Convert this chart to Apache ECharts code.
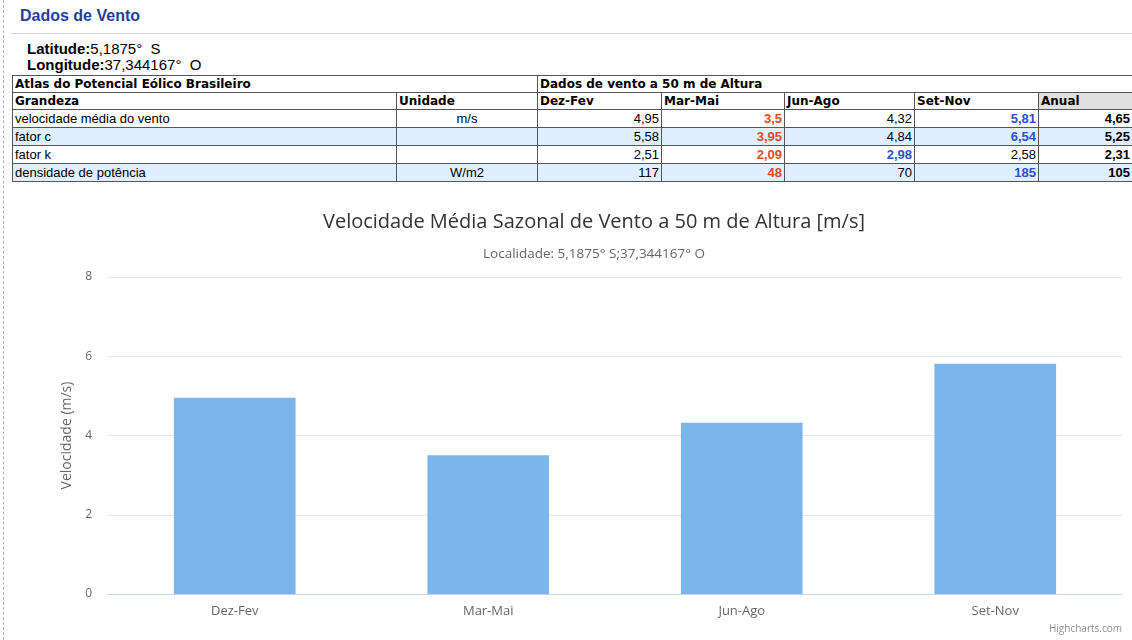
<!DOCTYPE html>
<html>
<head>
<meta charset="utf-8">
<script src="https://cdn.jsdelivr.net/npm/echarts@6/dist/echarts.min.js"></script>
<style>
  html, body { margin: 0; padding: 0; background: #fff; }
  body { width: 1132px; height: 640px; position: relative; overflow: hidden; font-family: "Liberation Sans", Arial, sans-serif; }
  #edge { position: absolute; left: 3px; top: 0; height: 640px; border-left: 1px dashed #b0b0b0; }
  #head { position: absolute; left: 20px; top: 7px; font-size: 16px; font-weight: bold; color: #1f3f9c; }
  #rule { position: absolute; left: 12px; right: 0; top: 33px; border-top: 1px solid #d0d0d0; }
  #coords { position: absolute; left: 27px; top: 41px; font-size: 15px; line-height: 16px; color: #000; }
  #coords b { font-weight: bold; }
  #tbl { position: absolute; left: 12px; top: 75px; width: 1120px; border-collapse: collapse; table-layout: fixed; font-size: 13px; }
  #tbl td { border: 1px solid #555; padding: 0 2px; height: 17px; line-height: 15px; white-space: nowrap; overflow: hidden; }
  #tbl tr.h td { font-family: "DejaVu Sans", Verdana, sans-serif; font-weight: bold; font-size: 12px; height: 16px; }
  #tbl tr.alt td { background: #dfefff; }
  #tbl td.num { text-align: right; }
  #tbl td.unit { text-align: center; }
  #tbl td.anual { font-weight: bold; }
  #tbl td.ahead { background: #e0e0e0; }
  #main { position: absolute; left: 0; top: 195px; width: 1132px; height: 445px; }
</style>
</head>
<body>
<div id="edge"></div>
<div id="head">Dados de Vento</div>
<div id="rule"></div>
<div id="coords"><b>Latitude:</b>5,1875°&nbsp; S<br><b>Longitude:</b>37,344167°&nbsp; O</div>
<table id="tbl">
  <colgroup>
    <col style="width:384px"><col style="width:141px"><col style="width:124px"><col style="width:123px"><col style="width:130px"><col style="width:124px"><col style="width:94px">
  </colgroup>
  <tbody id="tbody"></tbody>
</table>
<div id="main"></div>
<script>
var seasons = ['Dez-Fev', 'Mar-Mai', 'Jun-Ago', 'Set-Nov'];
var rowNames = ['velocidade média do vento', 'fator c', 'fator k', 'densidade de potência'];
var rowUnits = ['m/s', '', '', 'W/m2'];
var velocidade = [4.95, 3.5, 4.32, 5.81];
var fatorC = [5.58, 3.95, 4.84, 6.54];
var fatorK = [2.51, 2.09, 2.98, 2.58];
var densidade = [117, 48, 70, 185];
var anual = [4.65, 5.25, 2.31, 105];

var RED = '#dd4a26';
var BLUE = '#2d4fd0';

function fmt(v) { return String(v).replace('.', ','); }

var tbody = document.getElementById('tbody');
var html = '';
html += '<tr class="h"><td colspan="2">Atlas do Potencial Eólico Brasileiro</td><td colspan="5">Dados de vento a 50 m de Altura</td></tr>';
html += '<tr class="h"><td>Grandeza</td><td>Unidade</td>';
seasons.forEach(function (s) { html += '<td>' + s + '</td>'; });
html += '<td class="ahead">Anual</td></tr>';
[velocidade, fatorC, fatorK, densidade].forEach(function (vals, i) {
    var mn = Math.min.apply(null, vals), mx = Math.max.apply(null, vals);
    html += '<tr' + (i % 2 ? ' class="alt"' : '') + '><td>' + rowNames[i] + '</td><td class="unit">' + rowUnits[i] + '</td>';
    vals.forEach(function (v) {
        var st = '';
        if (v === mn) st = ' style="color:' + RED + ';font-weight:bold"';
        else if (v === mx) st = ' style="color:' + BLUE + ';font-weight:bold"';
        html += '<td class="num"' + st + '>' + fmt(v) + '</td>';
    });
    html += '<td class="num anual">' + fmt(anual[i]) + '</td></tr>';
});
tbody.innerHTML = html;

var chart = echarts.init(document.getElementById('main'));
var font = '"Open Sans", "Noto Sans", sans-serif';

var option = {
    animation: false,
    title: {
        text: 'Velocidade Média Sazonal de Vento a 50 m de Altura [m/s]',
        subtext: 'Localidade: 5,1875° S;37,344167° O',
        left: 589,
        textAlign: 'center',
        top: 12,
        itemGap: 15,
        textStyle: { fontFamily: font, fontSize: 20, fontWeight: 'normal', color: '#333333' },
        subtextStyle: { fontFamily: font, fontSize: 13.5, color: '#666666' }
    },
    graphic: [{
        type: 'text',
        right: 10,
        bottom: 6,
        style: { text: 'Highcharts.com', fontSize: 10, fontFamily: font, fill: '#909090' }
    }],
    grid: { left: 108, right: 10, top: 82, bottom: 46 },
    xAxis: {
        type: 'category',
        data: seasons,
        axisLine: { lineStyle: { color: '#ccd6eb' } },
        axisTick: { length: 10, lineStyle: { color: '#ccd6eb' } },
        axisLabel: { color: '#666666', fontSize: 13, fontFamily: font, margin: 11 }
    },
    yAxis: {
        type: 'value',
        min: 0,
        max: 8,
        interval: 2,
        name: 'Velocidade (m/s)',
        nameLocation: 'middle',
        nameGap: 33,
        nameTextStyle: { color: '#666666', fontSize: 14, fontFamily: font },
        axisLabel: { color: '#666666', fontSize: 12, fontFamily: font, margin: 16 },
        splitLine: { lineStyle: { color: '#e6e6e6' } }
    },
    series: [{
        name: 'Velocidade',
        type: 'bar',
        barWidth: '48%',
        itemStyle: { color: '#7cb5ec' },
        data: velocidade
    }]
};

chart.setOption(option);
</script>
</body>
</html>
